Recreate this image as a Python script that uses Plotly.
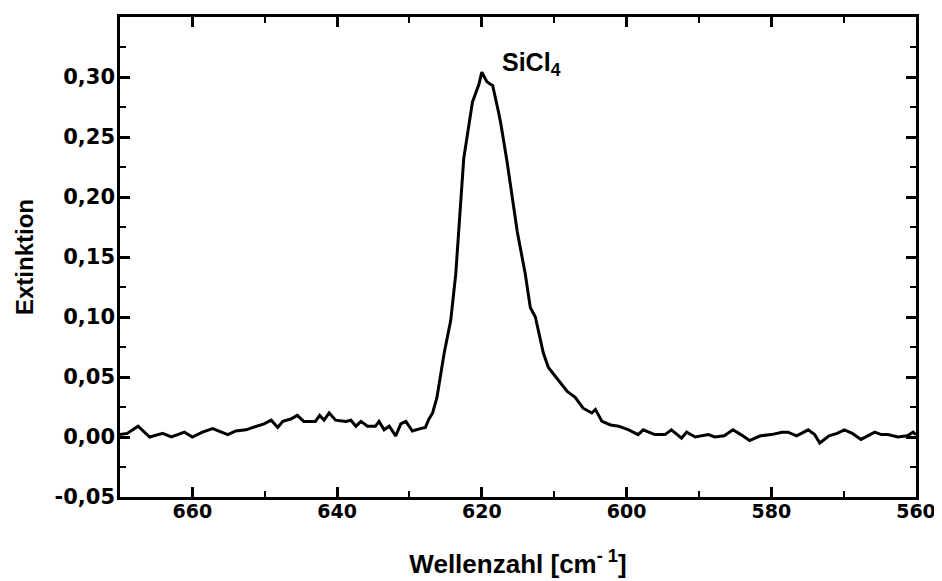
import plotly.graph_objects as go

# Wavenumber (cm^-1) and extinction
wavenumber = [670.0, 669.0, 667.5, 665.9, 664.1, 662.9, 661.1, 660.0, 658.6, 657.2,
              655.1, 654.0, 652.6, 651.2, 650.1, 649.1, 648.2, 647.5, 646.4, 645.5,
              644.6, 643.0, 642.4, 641.8, 641.1, 640.2, 638.8, 638.1, 637.4, 636.7,
              635.8, 634.7, 634.2, 633.5, 632.8, 631.9, 631.2, 630.5, 629.6, 628.5,
              627.8, 627.3, 626.8, 626.2, 625.9, 625.2, 624.3, 623.6, 623.2, 622.5,
              621.3, 620.4, 620.0, 619.3, 618.8, 618.5, 617.7, 617.4, 616.5, 615.4,
              615.1, 614.0, 613.3, 612.6, 611.5, 610.8, 609.4, 608.2, 607.1, 606.0,
              604.8, 604.3, 603.4, 602.2, 601.1, 599.7, 598.4, 597.7, 596.1, 594.7,
              593.8, 592.4, 591.7, 590.5, 588.7, 587.8, 586.5, 585.3, 584.2, 583.0,
              581.5, 580.0, 578.5, 577.7, 576.5, 574.9, 574.0, 573.3, 572.0, 570.9,
              569.9, 568.8, 567.6, 566.6, 565.7, 564.8, 563.9, 562.5, 561.2, 560.4,
              560.0]
extinction = [0.002, 0.003, 0.009, 0.000, 0.003, 0.000, 0.004, 0.000, 0.004, 0.007,
              0.002, 0.005, 0.006, 0.009, 0.011, 0.014, 0.008, 0.013, 0.015, 0.018,
              0.013, 0.013, 0.018, 0.014, 0.020, 0.014, 0.013, 0.014, 0.009, 0.013,
              0.009, 0.009, 0.013, 0.006, 0.009, 0.001, 0.011, 0.013, 0.005, 0.007,
              0.008, 0.015, 0.020, 0.033, 0.044, 0.070, 0.097, 0.136, 0.171, 0.232,
              0.279, 0.294, 0.304, 0.296, 0.294, 0.293, 0.271, 0.262, 0.229, 0.182,
              0.171, 0.136, 0.108, 0.100, 0.070, 0.058, 0.047, 0.038, 0.033, 0.024,
              0.020, 0.023, 0.013, 0.010, 0.009, 0.006, 0.002, 0.006, 0.002, 0.002,
              0.006, -0.001, 0.004, 0.000, 0.002, 0.000, 0.001, 0.006, 0.002, -0.003,
              0.001, 0.002, 0.004, 0.004, 0.001, 0.006, 0.002, -0.005, 0.001, 0.003,
              0.006, 0.003, -0.002, 0.001, 0.004, 0.002, 0.002, 0.000, 0.001, 0.004,
              0.002]

x_tick_vals = [660, 640, 620, 600, 580, 560]
x_tick_labels = ["660", "640", "620", "600", "580", "560"]
y_tick_vals = [-0.05, 0.0, 0.05, 0.10, 0.15, 0.20, 0.25, 0.30]
y_tick_labels = ["-0,05", "0,00", "0,05", "0,10", "0,15", "0,20", "0,25", "0,30"]

peak_label = "SiCl<sub>4</sub>"
peak_label_pos = (617.5, 0.3255)

FONT = "Liberation Sans, Arial, sans-serif"
TICKFONT = "DejaVu Sans, sans-serif"

fig = go.Figure()
fig.add_trace(go.Scatter(x=wavenumber, y=extinction, mode="lines",
                         line=dict(color="black", width=3), showlegend=False))

fig.add_annotation(x=peak_label_pos[0], y=peak_label_pos[1], text=peak_label,
                   showarrow=False, xanchor="left", yanchor="top",
                   font=dict(family=FONT, size=25, color="black", weight="bold"))

axis_common = dict(showline=True, linewidth=2.5, linecolor="black", mirror="ticks",
                   ticks="inside", ticklen=10, tickwidth=2.5, tickcolor="black",
                   showgrid=False, zeroline=False)

fig.update_xaxes(range=[670, 560], tickmode="array", tickvals=x_tick_vals,
                 ticktext=x_tick_labels, ticklabelstandoff=-5,
                 tickfont=dict(family=TICKFONT, size=19, color="black", weight="bold"),
                 minor=dict(tickmode="linear", tick0=560, dtick=10, ticks="inside",
                            ticklen=6, tickwidth=2, tickcolor="black"),
                 title=dict(text="<b>Wellenzahl [cm<sup>- 1</sup>]</b>", standoff=35,
                            font=dict(family=FONT, size=26, color="black")),
                 **axis_common)
fig.update_yaxes(range=[-0.05, 0.35], tickmode="array", tickvals=y_tick_vals,
                 ticktext=y_tick_labels, ticklabelstandoff=-2,
                 tickfont=dict(family=TICKFONT, size=21, color="black", weight="bold"),
                 minor=dict(tickmode="linear", tick0=-0.05, dtick=0.025, ticks="inside",
                            ticklen=6, tickwidth=2, tickcolor="black"),
                 title=dict(text="<b>Extinktion</b>", standoff=15,
                            font=dict(family=FONT, size=24, color="black")),
                 **axis_common)

# page body adds an 8px offset, so the figure is slightly smaller than the window
fig.update_layout(width=934, height=573, plot_bgcolor="white", paper_bgcolor="white",
                  margin=dict(l=112, r=24, t=6, b=84),
                  font=dict(family=FONT, color="black"))

fig.write_html("out.html")
